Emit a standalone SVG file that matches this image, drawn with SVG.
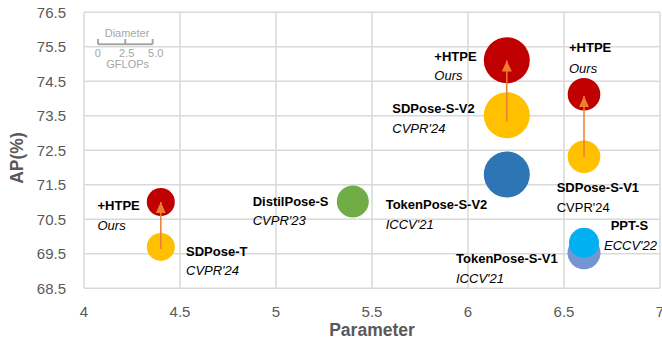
<svg xmlns="http://www.w3.org/2000/svg" width="662" height="347" viewBox="0 0 662 347">
  <style>
    .grid { stroke: #d9d9d9; stroke-width: 1.5; fill: none; }
    .tick { font-family: "Liberation Sans", Arial, sans-serif; font-size: 15px; fill: #595959; }
    .title { font-family: "Liberation Sans", Arial, sans-serif; font-size: 17.5px; font-weight: bold; fill: #595959; }
    .name { font-family: "Liberation Sans", Arial, sans-serif; font-size: 13px; font-weight: bold; fill: #000; }
    .venue { font-family: "Liberation Sans", Arial, sans-serif; font-size: 13px; font-style: italic; fill: #000; }
    .venue-up { font-family: "Liberation Sans", Arial, sans-serif; font-size: 13px; fill: #000; }
    .legend { font-family: "Liberation Sans", Arial, sans-serif; font-size: 11px; fill: #a6a6a6; }
    .arrow { stroke: #ed7d31; stroke-width: 1.5; fill: none; marker-end: url(#head); }
    .red { fill: #c00000; }
    .yellow { fill: #ffc000; }
  </style>
  <defs>
    <marker id="head" markerUnits="userSpaceOnUse" markerWidth="11" markerHeight="10" viewBox="0 0 11 10" refX="11" refY="5" orient="auto">
      <path d="M0,0 L11,5 L0,10 Z" fill="#ed7d31"/>
    </marker>
  </defs>

  <rect width="662" height="347" fill="#ffffff"/>

  <!-- grid: x = 84 + (p-4)*192, y = 12.3 + (76.5-ap)*34.5 -->
  <g id="grid" class="grid">
    <path d="M84,12.3V288.3 M180,12.3V288.3 M276,12.3V288.3 M372,12.3V288.3 M468,12.3V288.3 M564,12.3V288.3 M660,12.3V288.3"/>
    <path d="M84,12.3H660 M84,46.8H660 M84,81.3H660 M84,115.8H660 M84,150.3H660 M84,184.8H660 M84,219.3H660 M84,253.8H660 M84,288.3H660"/>
  </g>

  <!-- axis tick labels -->
  <g id="y-ticks" class="tick" text-anchor="end">
    <text x="66" y="17.5">76.5</text>
    <text x="66" y="52">75.5</text>
    <text x="66" y="86.5">74.5</text>
    <text x="66" y="121">73.5</text>
    <text x="66" y="155.5">72.5</text>
    <text x="66" y="190">71.5</text>
    <text x="66" y="224.5">70.5</text>
    <text x="66" y="259">69.5</text>
    <text x="66" y="293.5">68.5</text>
  </g>
  <g id="x-ticks" class="tick" text-anchor="middle">
    <text x="84" y="317">4</text>
    <text x="180" y="317">4.5</text>
    <text x="276" y="317">5</text>
    <text x="372" y="317">5.5</text>
    <text x="468" y="317">6</text>
    <text x="564" y="317">6.5</text>
    <text x="660" y="317">7</text>
  </g>
  <text class="title" x="372" y="336" text-anchor="middle">Parameter</text>
  <text class="title" x="0" y="0" text-anchor="middle" font-size="19" transform="translate(23,158) rotate(-90)">AP(%)</text>

  <!-- size key -->
  <g id="size-key">
    <text class="legend" x="127" y="36.5" text-anchor="middle">Diameter</text>
    <path d="M98,44.3H152.7 M98,39V44.3 M125.3,39V44.3 M152.7,39V44.3" stroke="#a6a6a6" stroke-width="2" fill="none"/>
    <text class="legend" x="97.7" y="57.3" text-anchor="middle">0</text>
    <text class="legend" x="126.7" y="57.3" text-anchor="middle">2.5</text>
    <text class="legend" x="155.7" y="57.3" text-anchor="middle">5.0</text>
    <text class="legend" x="127.7" y="68.3" text-anchor="middle">GFLOPs</text>
  </g>

  <!-- bubbles -->
  <g id="sdpose-t">
    <circle class="yellow" cx="160.8" cy="246.9" r="14"/>
    <text class="name" x="186" y="256">SDPose-T</text>
    <text class="venue" x="186" y="274.5">CVPR'24</text>
  </g>
  <g id="htpe-t">
    <circle class="red" cx="160.8" cy="202" r="14"/>
    <text class="name" x="97.5" y="210.3">+HTPE</text>
    <text class="venue" x="97.5" y="230">Ours</text>
  </g>
  <g id="distilpose-s">
    <circle cx="352.8" cy="201.5" r="16" fill="#70ad47"/>
    <text class="name" x="252.7" y="206">DistilPose-S</text>
    <text class="venue" x="252.7" y="225">CVPR'23</text>
  </g>
  <g id="tokenpose-s-v2">
    <circle cx="506.8" cy="174.4" r="23" fill="#2e75b6"/>
    <text class="name" x="385.7" y="209.3">TokenPose-S-V2</text>
    <text class="venue" x="385.7" y="229">ICCV'21</text>
  </g>
  <g id="sdpose-s-v2">
    <circle class="yellow" cx="506.8" cy="115.3" r="23"/>
    <text class="name" x="392.3" y="113.3">SDPose-S-V2</text>
    <text class="venue" x="392.3" y="133.3">CVPR'24</text>
  </g>
  <g id="htpe-s-v2">
    <circle class="red" cx="506.8" cy="60.3" r="23"/>
    <text class="name" x="434.3" y="60.7">+HTPE</text>
    <text class="venue" x="434.3" y="80">Ours</text>
  </g>
  <g id="sdpose-s-v1">
    <circle class="yellow" cx="584" cy="156.8" r="16.3"/>
    <text class="name" x="556.7" y="191.7">SDPose-S-V1</text>
    <text class="venue-up" x="556.7" y="211.7">CVPR'24</text>
  </g>
  <g id="htpe-s-v1">
    <circle class="red" cx="584" cy="94.3" r="16.3"/>
    <text class="name" x="569" y="52.3">+HTPE</text>
    <text class="venue" x="569" y="72.7">Ours</text>
  </g>
  <g id="tokenpose-s-v1">
    <circle cx="584" cy="252.8" r="16.5" fill="#7395d3"/>
    <text class="name" x="456" y="263.3">TokenPose-S-V1</text>
    <text class="venue" x="456" y="283.3">ICCV'21</text>
  </g>
  <g id="ppt-s">
    <circle cx="584" cy="242.8" r="15" fill="#00b0f0"/>
    <text class="name" x="610.7" y="230">PPT-S</text>
    <text class="venue" x="604" y="250">ECCV'22</text>
  </g>

  <!-- improvement arrows -->
  <g id="connectors">
    <line class="arrow" x1="160.8" y1="249" x2="160.8" y2="202"/>
    <line class="arrow" x1="506.8" y1="121.5" x2="506.8" y2="60.5"/>
    <line class="arrow" x1="584" y1="157" x2="584" y2="96"/>
  </g>
</svg>
